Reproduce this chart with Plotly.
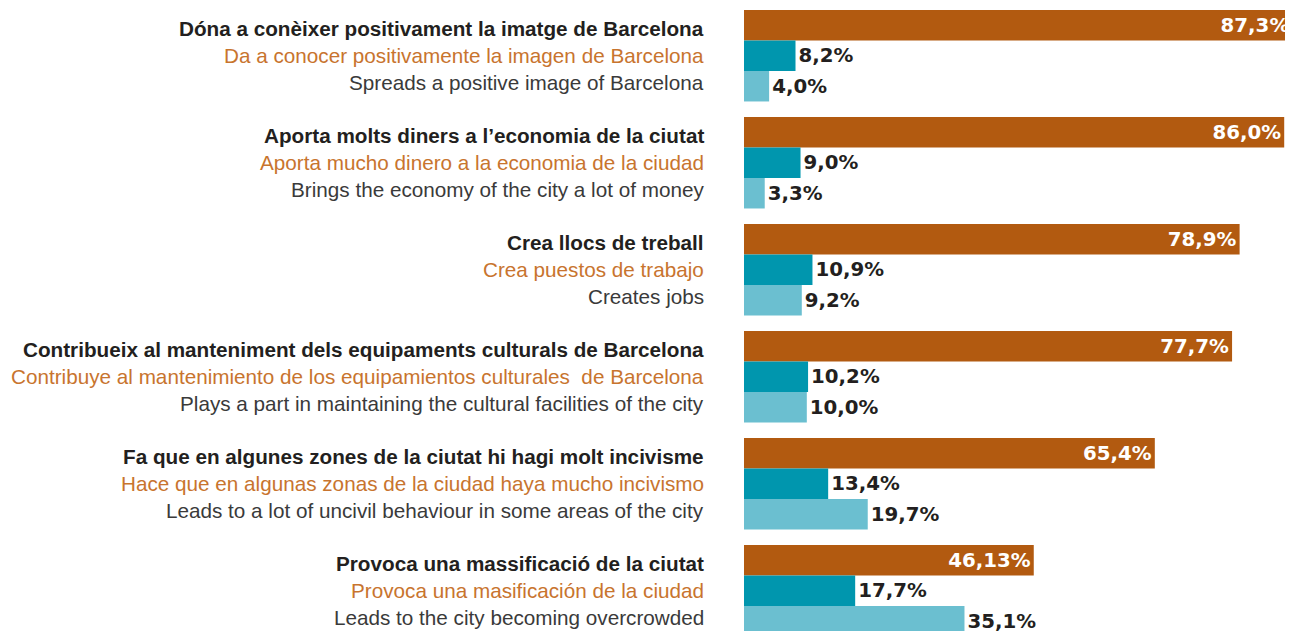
import plotly.graph_objects as go

cat_ca = [
    "Dóna a conèixer positivament la imatge de Barcelona",
    "Aporta molts diners a l’economia de la ciutat",
    "Crea llocs de treball",
    "Contribueix al manteniment dels equipaments culturals de Barcelona",
    "Fa que en algunes zones de la ciutat hi hagi molt incivisme",
    "Provoca una massificació de la ciutat",
]
cat_es = [
    "Da a conocer positivamente la imagen de Barcelona",
    "Aporta mucho dinero a la economia de la ciudad",
    "Crea puestos de trabajo",
    "Contribuye al mantenimiento de los equipamientos culturales  de Barcelona",
    "Hace que en algunas zonas de la ciudad haya mucho incivismo",
    "Provoca una masificación de la ciudad",
]
cat_en = [
    "Spreads a positive image of Barcelona",
    "Brings the economy of the city a lot of money",
    "Creates jobs",
    "Plays a part in maintaining the cultural facilities of the city",
    "Leads to a lot of uncivil behaviour in some areas of the city",
    "Leads to the city becoming overcrowded",
]
series1 = [87.3, 86.0, 78.9, 77.7, 65.4, 46.13]
series2 = [8.2, 9.0, 10.9, 10.2, 13.4, 17.7]
series3 = [4.0, 3.3, 9.2, 10.0, 19.7, 35.1]

def fmt(v):
    return str(v).replace(".", ",") + "%"

ypos = list(range(len(cat_ca)))
C_OR = "#B25A10"
C_TE = "#0096AE"
C_LB = "#6BBFD0"
LABEL_FONT = dict(family="DejaVu Sans", size=19.8, weight="bold")

fig = go.Figure()
fig.add_trace(go.Bar(
    y=ypos, x=series1, orientation="h", marker=dict(color=C_OR, line=dict(width=0)),
    text=[fmt(v) for v in series1], textposition="inside", insidetextanchor="end",
    textfont=dict(color="white", **LABEL_FONT), textangle=0, cliponaxis=False,
    hoverinfo="skip",
))
fig.add_trace(go.Bar(
    y=ypos, x=series2, orientation="h", marker=dict(color=C_TE, line=dict(width=0)),
    text=[fmt(v) for v in series2], textposition="outside",
    textfont=dict(color="#231F20", **LABEL_FONT), textangle=0, cliponaxis=False,
    hoverinfo="skip",
))
fig.add_trace(go.Bar(
    y=ypos, x=series3, orientation="h", marker=dict(color=C_LB, line=dict(width=0)),
    text=[fmt(v) for v in series3], textposition="outside",
    textfont=dict(color="#231F20", **LABEL_FONT), textangle=0, cliponaxis=False,
    hoverinfo="skip",
))

annotations = []
for i in ypos:
    for txt, shift, col, w in [(cat_ca[i], 27, "#231F20", "bold"),
                               (cat_es[i], 0, "#C8742E", "normal"),
                               (cat_en[i], -27, "#3A3A3A", "normal")]:
        annotations.append(dict(
            xref="paper", yref="y", x=0, y=i, yshift=shift, xshift=-38,
            xanchor="right", yanchor="middle", text=txt, showarrow=False,
            font=dict(family="Liberation Sans", size=20.7, color=col, weight=w),
        ))

fig.update_layout(
    width=1285, height=623,
    margin=dict(l=736, r=0, t=0, b=0),
    barmode="group", bargap=0.145, bargroupgap=0,
    showlegend=False,
    plot_bgcolor="white", paper_bgcolor="white",
    xaxis=dict(range=[0, 87.4], visible=False, fixedrange=True),
    yaxis=dict(range=[5.376, -0.446], visible=False, fixedrange=True),
    annotations=annotations,
)
fig.write_html("out.html")
